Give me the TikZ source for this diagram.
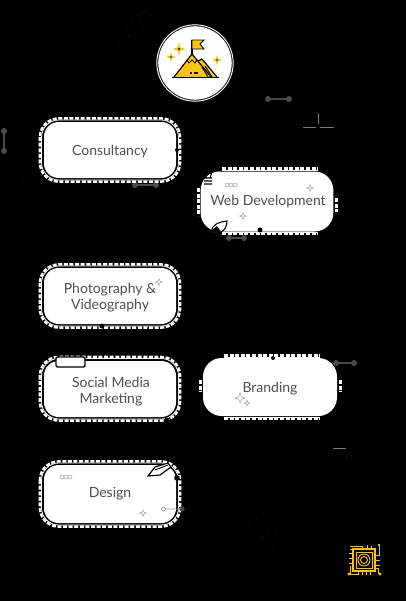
\documentclass[tikz,border=0pt]{standalone}
\usepackage{fontspec}
\setmainfont{Lato}
\definecolor{gold}{HTML}{FBC412}
\definecolor{ink}{HTML}{4F4F4F}
\definecolor{bargrey}{HTML}{4A4A4A}
\definecolor{dotgrey}{HTML}{7A7A7A}
\tikzset{
  x=.75pt,y=-.75pt,
  ringline/.style={white,line width=.6pt,rounded corners=13pt},
  ringdash/.style={white,line width=1.8pt,dash pattern=on 3pt off 1.2pt,rounded corners=14pt},
  card/.style={fill=white,rounded corners=11pt,inner sep=0pt,minimum width=99pt},
  pill/.style={card,rounded corners=14pt},
  cardtext/.style={align=center,text=ink,inner sep=0pt,font=\fontsize{10.5}{12}\selectfont},
  bar/.style={draw=bargrey,line width=1.8pt,line cap=round},
  knot/.style={fill=bargrey},
  speck/.style={fill=dotgrey},
  sparklegrey/.style={draw=ink!60,line width=.35pt,fill=white},
  goldstar/.style={fill=gold},
}
\newcommand{\cardring}[4]{%
  \draw[ringline] (#1,#2) rectangle (#3,#4);
  \draw[ringdash] (#1-1.6,#2-1.6) rectangle (#3+1.6,#4+1.6);}
\newcommand{\fourstar}[4]{% x y r style
  \path[#4] (#1-#3,#2) -- (#1-.25*#3,#2-.25*#3) -- (#1,#2-#3) -- (#1+.25*#3,#2-.25*#3) -- (#1+#3,#2)
    -- (#1+.25*#3,#2+.25*#3) -- (#1,#2+#3) -- (#1-.25*#3,#2+.25*#3) -- cycle;}
\newcommand{\barbell}[4]{%
  \draw[bar] (#1,#2) -- (#3,#4);
  \fill[knot] (#1,#2) circle (3);
  \fill[knot] (#3,#4) circle (3);}
\newcommand{\specks}[1]{\foreach \sx/\sy in {#1}{\fill[speck] (\sx,\sy) circle (.4);}}
\begin{document}
\begin{tikzpicture}
\useasboundingbox (0,0) rectangle (406,601);
\fill[black] (0,0) rectangle (406,601);

% faint icons on the black ground: only their sparse specks show
\specks{141/6,146/10,150/15,138/14,132/22,127/30,122/38,118/44,130/45,136/38,143/30,148/24,152/30,144/12,125/42,134/27,140/22,155/38,129/36}
\draw[dotgrey,line width=.35pt] (303,127) -- (316,127) (320,127) -- (334,127) (318,113) -- (318,124);
\specks{324/93,320/97,328/97,314/104,332/104,309/112,304/122}
\specks{23/178,38/154,30/160}
\draw[dotgrey,line width=.3pt] (333,448) -- (346,448);
\specks{325/431,352/435,333/456,338/458,347/458,352/456,343/454}
\specks{249/522,257/519,270/520,276/534,273/546,264/551,250/546,268/532,260/536,258/528,262/538}

% barbells
\barbell{4}{131}{4}{151}
\barbell{268}{99}{289}{99}
\barbell{135}{185}{156}{185}
\barbell{229}{238}{244}{238}
\barbell{336}{363}{354}{363}

% top badge
\node[circle,fill=white,draw=black,line width=.3pt,minimum size=55.5pt,inner sep=0pt] (badge) at (195,63) {};
\draw[white,line width=.7pt] (195,63) circle (38.2);
\fill[gold] (174,77) -- (192,54) -- (198,62) -- (202,59) -- (217,77) -- cycle;
\draw[black,line width=.9pt,line join=round] (174,77) -- (192,54) -- (211,77);
\draw[black,line width=.9pt,line join=round] (198,61) -- (202,59) -- (217,77);
\draw[black,line width=.7pt] (187,60) -- (189,63) -- (192,60) -- (195,63) -- (197,60);
\draw[black,line width=.9pt] (172,77.5) -- (219,77.5);
\draw[black,line width=.9pt] (192,54) -- (192,40);
\draw[black,line width=.7pt,fill=gold] (192,40) -- (204,40) -- (200,44) -- (204,49) -- (192,49) -- cycle;
\draw[black,line width=.9pt] (190,73) -- (191.5,73) (194,73) -- (198,73);
\draw[black,line width=.7pt] (205,66) -- (212,77) (202,67) -- (208,77);
\fourstar{179}{49}{6.5}{goldstar}
\fourstar{171}{57}{5}{goldstar}
\fourstar{217}{60}{5}{goldstar}
\fill[black] (179,49) circle (1.1) (171,57) circle (.9) (217,60) circle (.9);

% dashed rings
\cardring{41.5}{120}{178.5}{180}
\cardring{41.5}{266}{178.5}{326}
\cardring{41.5}{358.5}{178.5}{419}
\cardring{41.5}{463}{178.5}{525}
\draw[ringline] (222,170) -- (318,170) (222,232.5) -- (318,232.5);
\draw[ringdash] (222,168.5) -- (318,168.5) (222,234) -- (318,234)
  (198.5,188) -- (198.5,216) (336.5,198) -- (336.5,212);
\draw[ringline] (224,357) -- (320,357) (224,417.5) -- (320,417.5);
\draw[ringdash] (224,355.5) -- (320,355.5) (224,419) -- (320,419)
  (200.5,380) -- (200.5,392) (340.5,380) -- (340.5,392);

% cards
\node[card,minimum height=42pt] (consult) at (110,150) {};
\node[card,minimum height=42pt] (photo) at (110,296) {};
\node[card,minimum height=42pt] (social) at (110,389) {};
\node[card,minimum height=43.5pt] (design) at (110,494) {};
\node[pill,minimum width=99.5pt,minimum height=45pt] (web) at (267,201.5) {};
\node[pill,minimum width=100.5pt,minimum height=43.5pt] (brand) at (270,387) {};
\node[cardtext] (consulttext) at (110,151.5) {Consultancy};
\node[cardtext] (phototext) at (110,298) {Photography \&\\Videography};
\node[cardtext] (socialtext) at (111,391.5) {Social Media\\Marketing};
\node[cardtext] (designtext) at (110,494) {Design};
\node[cardtext] (webtext) at (268,202) {Web Development};
\node[cardtext] (brandtext) at (270,388.5) {Branding};

% decorations on the cards
\fill[black] (177,150) circle (2);
\fill[black] (102,326) circle (2.5);
\fill[black] (177,478) circle (2.8);
\fill[black] (167,420) circle (2.5);
\fill[black] (260,230) circle (2.5);
\fill[black] (273,358) circle (2);
\fourstar{159}{282}{3.5}{sparklegrey}
\draw[ink!60,line width=.35pt] (227,185) circle (2) (231,185) circle (2) (235,185) circle (2);
\fourstar{310}{188}{3.5}{sparklegrey}
\fourstar{243}{216}{3.5}{sparklegrey}
\draw[black,line width=.8pt] (204,178) -- (212,178) (204,181) -- (212,181) (204,184) -- (212,184) (206,178) -- (206,172) (210,178) -- (212,172);
\draw[black,line width=.8pt,fill=white] (211,232) .. controls (212,225) and (218,222) .. (227,221) .. controls (227,226) and (225,230) .. (221,232);
\fill[black] (210,232) -- (217,226) -- (222,233) -- cycle;
\draw[black,line width=1pt,fill=white,rounded corners=1pt] (56,357) rectangle (85,367);
\fourstar{240}{398}{5}{sparklegrey}
\fourstar{247}{403}{3}{sparklegrey}
\draw[ink!60,line width=.35pt] (62,477) circle (2) (66,477) circle (2) (70,477) circle (2);
\fourstar{143}{513}{3.5}{sparklegrey}
\draw[black,line width=.9pt,fill=white] (148,476) -- (155,467) -- (168,463) -- (171,467) -- (160,475) -- cycle;
\draw[black,line width=.7pt] (155,470) -- (168,465);
\draw[ink!60,line width=.5pt] (163.5,509) circle (2) (165.5,509) -- (180,509);
\fill[knot] (182,509) circle (2.6);

% chip
\begin{scope}[gold,line width=.7pt]
  \draw[line width=.9pt] (353,549) rectangle (375,571);
  \draw (356,552) rectangle (372,568);
  \draw (364,560) circle (3.5) (364,560) circle (6);
  \draw (350,546) -- (362,546) -- (362,549) (350,549) -- (352,549)
    (379,545) -- (379,555) -- (375,555) (367,545) -- (367,549) (371,546) -- (371,549)
    (349,553) -- (353,553) (349,558) -- (353,558) (349,563) -- (353,563) (350,566) -- (350,574) -- (358,574) -- (358,571)
    (362,571) -- (362,575) (366,571) -- (366,575) (370,571) -- (370,575)
    (375,560) -- (380,560) (375,565) -- (380,565) (375,568) -- (378,568) -- (378,574);
  \fill (349,574) circle (1.6) (380,574) circle (1.6) (379,545) circle (1.4);
\end{scope}
\end{tikzpicture}
\end{document}
